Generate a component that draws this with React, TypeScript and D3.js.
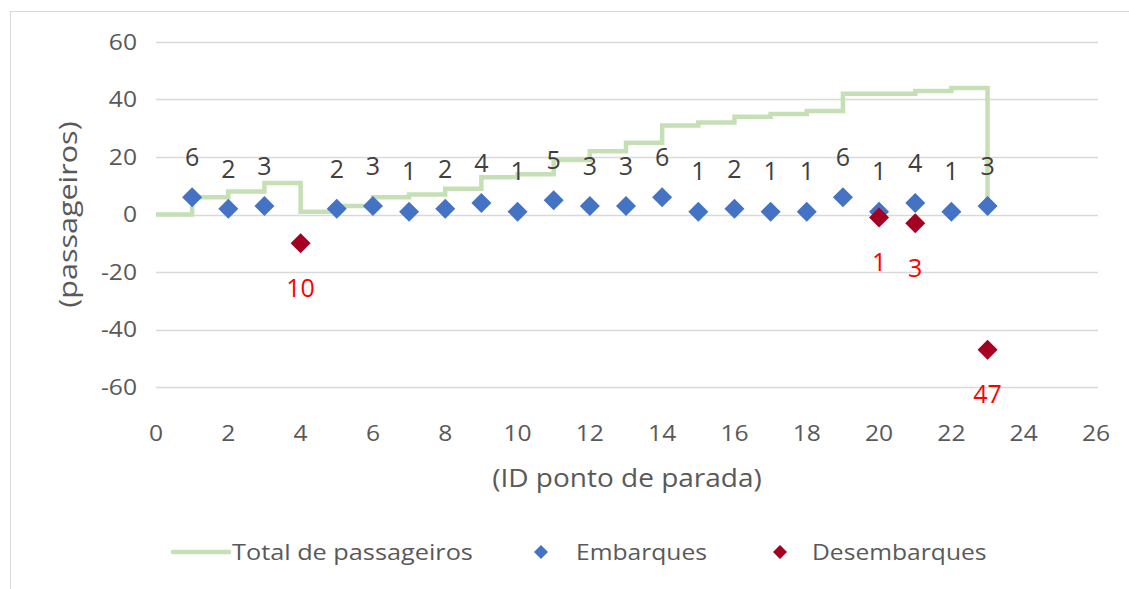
import React from "react";
import * as d3 from "d3";

const stops = [1, 2, 3, 4, 5, 6, 7, 8, 9, 10, 11, 12, 13, 14, 15, 16, 17, 18, 19, 20, 21, 22, 23];
const embarques = [6, 2, 3, null, 2, 3, 1, 2, 4, 1, 5, 3, 3, 6, 1, 2, 1, 1, 6, 1, 4, 1, 3];
const desembarques = [null, null, null, 10, null, null, null, null, null, null, null, null, null, null, null, null, null, null, null, 1, 3, null, 47];
const totalX = [0, 1, 2, 3, 4, 5, 6, 7, 8, 9, 10, 11, 12, 13, 14, 15, 16, 17, 18, 19, 20, 21, 22, 23];
const totalY = [0, 6, 8, 11, 1, 3, 6, 7, 9, 13, 14, 19, 22, 25, 31, 32, 34, 35, 36, 42, 42, 43, 44, 0];
const xTicks = [0, 2, 4, 6, 8, 10, 12, 14, 16, 18, 20, 22, 24, 26];
const yTicks = [-60, -40, -20, 0, 20, 40, 60];

const FONT = "'Open Sans', sans-serif";

function T(props: {
  x: number;
  y: number;
  anchor?: "start" | "middle" | "end";
  size: number;
  fill: string;
  sx?: number;
  rotate?: number;
  children: React.ReactNode;
}) {
  const { x, y, anchor = "start", size, fill, sx = 1, rotate = 0, children } = props;
  return (
    <g transform={`translate(${x},${y}) rotate(${rotate}) scale(${sx},1)`}>
      <text dy="0.35em" textAnchor={anchor} fontFamily={FONT} fontSize={size} fill={fill}>
        {children}
      </text>
    </g>
  );
}

export default function App() {
  const W = 1129, H = 589;
  const x = d3.scaleLinear().domain([0, 26]).range([156, 1096]);
  const y = d3.scaleLinear().domain([-60, 60]).range([387, 42]);
  const line = d3
    .line<number>()
    .x((_, i) => x(totalX[i]))
    .y((d) => y(d))
    .curve(d3.curveStepAfter);
  const diamond = (cx: number, cy: number, r: number) =>
    `M${cx},${cy - r}L${cx + r},${cy}L${cx},${cy + r}L${cx - r},${cy}Z`;
  const AX = "#595959";
  const SX = 1.12;

  return (
    <div style={{ position: "absolute", left: 0, top: 0 }}>
      <svg width={W} height={H} style={{ display: "block", background: "#fff" }}>
        <rect x={10.5} y={11.5} width={W + 10} height={H + 10} fill="none" stroke="#d9d9d9" strokeWidth={1} />
        {yTicks.map((t) => (
          <g key={t}>
            <line x1={x(0)} x2={1098} y1={Math.round(y(t)) + 0.5} y2={Math.round(y(t)) + 0.5} stroke="#d9d9d9" strokeWidth={1.5} />
            <T x={137} y={y(t)} anchor="end" size={22} fill={AX} sx={SX}>
              {t}
            </T>
          </g>
        ))}
        {xTicks.map((t) => (
          <T key={t} x={x(t)} y={433} anchor="middle" size={22} fill={AX} sx={SX}>
            {t}
          </T>
        ))}
        <T x={627} y={478} anchor="middle" size={25} fill={AX} sx={SX}>
          (ID ponto de parada)
        </T>
        <T x={68} y={y(0)} anchor="middle" size={25} fill={AX} sx={1.22} rotate={-90}>
          (passageiros)
        </T>
        <path d={line(totalY) || ""} fill="none" stroke="#c5e0b4" strokeWidth={4.5} />
        {stops.map((s, i) =>
          embarques[i] == null ? null : (
            <g key={"e" + s}>
              <path d={diamond(x(s), y(embarques[i] as number), 10)} fill="#4472c4" />
              <T x={x(s)} y={y(embarques[i] as number) - 40} anchor="middle" size={25} fill="#404040">
                {embarques[i]}
              </T>
            </g>
          )
        )}
        {stops.map((s, i) =>
          desembarques[i] == null ? null : (
            <g key={"d" + s}>
              <path d={diamond(x(s), y(-(desembarques[i] as number)), 10)} fill="#a50021" />
              <T x={x(s)} y={y(-(desembarques[i] as number)) + 45} anchor="middle" size={25} fill="#ff0000">
                {desembarques[i]}
              </T>
            </g>
          )
        )}
        <line x1={173} x2={229} y1={552} y2={552} stroke="#c5e0b4" strokeWidth={4.5} strokeLinecap="round" />
        <T x={232} y={552} size={22} fill={AX} sx={1.15}>
          Total de passageiros
        </T>
        <path d={diamond(541, 552, 7)} fill="#4472c4" />
        <T x={576} y={552} size={22} fill={AX} sx={SX}>
          Embarques
        </T>
        <path d={diamond(780, 552, 7)} fill="#a50021" />
        <T x={812} y={552} size={22} fill={AX} sx={SX}>
          Desembarques
        </T>
      </svg>
    </div>
  );
}
